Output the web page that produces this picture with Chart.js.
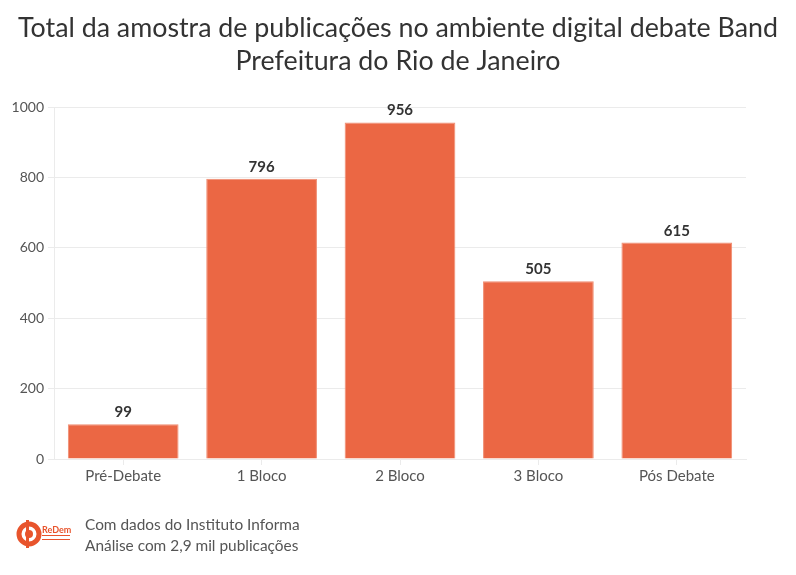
<!DOCTYPE html>
<html><head><meta charset="utf-8">
<script src="https://cdn.jsdelivr.net/npm/chart.js@4"></script>
<style>html,body{margin:0;padding:0;background:#fff}#wrap{width:796px;height:575px;position:relative}</style>
</head><body><div id="wrap"><canvas id="c" width="796" height="575"></canvas></div>
<script>
const categories = ['Pré-Debate', '1 Bloco', '2 Bloco', '3 Bloco', 'Pós Debate'];
const values = [99, 796, 956, 505, 615];
const yTicks = [0, 200, 400, 600, 800, 1000];
const titleLines = ['Total da amostra de publicações no ambiente digital debate Band', 'Prefeitura do Rio de Janeiro'];
const footerLines = ['Com dados do Instituto Informa', 'Análise com 2,9 mil publicações'];
const FONT = 'Lato, "Open Sans", sans-serif';

const overlay = {
  id: 'overlay',
  afterDatasetsDraw(chart) {
    const ctx = chart.ctx;
    const meta = chart.getDatasetMeta(0);
    ctx.save();
    ctx.fillStyle = '#333';
    ctx.font = 'bold 15px ' + FONT;
    ctx.textAlign = 'center';
    ctx.textBaseline = 'alphabetic';
    meta.data.forEach((bar, i) => {
      ctx.fillText(String(values[i]), bar.x, bar.y - 7);
    });
    ctx.restore();
  },
  afterDraw(chart) {
    const ctx = chart.ctx;
    ctx.save();
    ctx.fillStyle = '#333';
    ctx.font = '26.8px ' + FONT;
    ctx.textAlign = 'center';
    ctx.textBaseline = 'middle';
    ctx.fillText(titleLines[0], 398, 28);
    ctx.fillText(titleLines[1], 398, 61);
    ctx.fillStyle = '#555';
    ctx.font = '15.4px ' + FONT;
    ctx.textAlign = 'left';
    ctx.fillText(footerLines[0], 85, 525);
    ctx.fillText(footerLines[1], 85, 546);
    // logo
    ctx.strokeStyle = '#e8542c';
    ctx.lineWidth = 5;
    ctx.beginPath(); ctx.arc(29, 534, 10, 0, Math.PI * 2); ctx.stroke();
    ctx.fillStyle = '#e8542c';
    ctx.beginPath(); ctx.arc(29, 534, 4, 0, Math.PI * 2); ctx.fill();
    ctx.fillRect(26, 520, 3, 28);
    ctx.font = 'bold 9px ' + FONT;
    ctx.fillText('ReDem', 42, 530);
    ctx.fillRect(42, 535, 28, 1);
    ctx.fillRect(42, 539, 28, 1);
    ctx.restore();
  }
};

new Chart(document.getElementById('c'), {
  type: 'bar',
  data: {
    labels: categories,
    datasets: [{
      data: values,
      backgroundColor: '#eb6744',
      borderColor: '#f08c70',
      borderWidth: 1,
      barPercentage: 0.8,
      categoryPercentage: 1.0
    }]
  },
  options: {
    responsive: false,
    animation: false,
    layout: { padding: { top: 107, right: 50, bottom: 86, left: 0 } },
    plugins: { legend: { display: false }, title: { display: false }, tooltip: { enabled: false } },
    scales: {
      x: {
        afterFit(s) { s.height = 30; },
        grid: { drawOnChartArea: false, offset: false, color: '#ebebeb', tickLength: 6 },
        border: { color: '#ebebeb' },
        ticks: { color: '#555', font: { family: FONT, size: 15 }, padding: 2 }
      },
      y: {
        min: 0, max: 1000,
        afterFit(s) { s.width = 54; },
        afterBuildTicks(s) { s.ticks = yTicks.map(v => ({ value: v })); },
        grid: { color: '#ebebeb', tickLength: 6 },
        border: { color: '#ebebeb' },
        ticks: { color: '#555', font: { family: FONT, size: 14 }, padding: 4, callback: v => String(v) }
      }
    }
  },
  plugins: [overlay]
});
</script></body></html>
